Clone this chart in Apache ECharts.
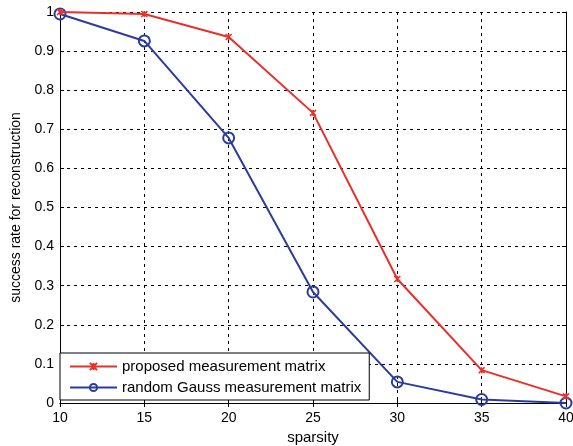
<!DOCTYPE html>
<html>
<head>
<meta charset="utf-8">
<script src="https://cdn.jsdelivr.net/npm/echarts@6/dist/echarts.min.js"></script>
<style>
html, body { margin: 0; padding: 0; background: #fff; }
#chart { width: 573px; height: 446px; }
</style>
</head>
<body>
<div id="chart"></div>
<script>
var sparsity = [10, 15, 20, 25, 30, 35, 40];
var proposed = [1.0, 0.995, 0.936, 0.742, 0.317, 0.084, 0.017];
var gauss = [0.995, 0.926, 0.678, 0.284, 0.054, 0.009, 0.0];
var names = ['proposed measurement matrix', 'random Gauss measurement matrix'];

function pairs(ys) {
    return sparsity.map(function(x, i) { return [x, ys[i]]; });
}

var font = 'Liberation Sans, Arial, sans-serif';
var axisCommon = {
    axisLine: { show: true, onZero: false, lineStyle: { color: '#000', width: 1 } },
    axisTick: { show: true, inside: true, length: 4, lineStyle: { color: '#000' } },
    axisLabel: { color: '#000', fontSize: 14, fontFamily: font },
    splitLine: { show: true, lineStyle: { color: '#000', type: [3, 4], width: 1 } }
};

var chart = echarts.init(document.getElementById('chart'));
chart.setOption({
    animation: false,
    backgroundColor: '#fff',
    grid: { left: 60, right: 7, top: 12, bottom: 43, containLabel: false, outerBoundsMode: 'none' },
    legend: {
        data: names,
        orient: 'vertical',
        left: 60,
        top: 353,
        itemWidth: 47,
        itemHeight: 9,
        itemGap: 6,
        padding: [6, 8, 5, 9],
        backgroundColor: '#fff',
        borderColor: '#000',
        borderWidth: 1,
        borderRadius: 0,
        textStyle: { color: '#000', fontSize: 15, fontFamily: font, padding: [0, 0, 0, 0] }
    },
    xAxis: [
        Object.assign({}, axisCommon, {
            type: 'value', min: 10, max: 40, interval: 5,
            name: 'sparsity', nameLocation: 'middle', nameGap: 25,
            nameTextStyle: { color: '#000', fontSize: 15, fontFamily: font },
            axisLabel: Object.assign({}, axisCommon.axisLabel, { margin: 8 })
        }),
        {
            type: 'value', min: 10, max: 40, interval: 5, position: 'top',
            axisLine: { show: true, lineStyle: { color: '#000' } },
            axisTick: { show: true, inside: true, length: 4, lineStyle: { color: '#000' } },
            axisLabel: { show: false }, splitLine: { show: false }
        }
    ],
    yAxis: [
        Object.assign({}, axisCommon, {
            type: 'value', min: 0, max: 1, interval: 0.1,
            name: 'success rate for reconstruction', nameLocation: 'middle', nameGap: 37,
            nameTextStyle: { color: '#000', fontSize: 14, fontFamily: font },
            axisLabel: Object.assign({}, axisCommon.axisLabel, { margin: 6 })
        }),
        {
            type: 'value', min: 0, max: 1, interval: 0.1, position: 'right',
            axisLine: { show: true, lineStyle: { color: '#000' } },
            axisTick: { show: true, inside: true, length: 4, lineStyle: { color: '#000' } },
            axisLabel: { show: false }, splitLine: { show: false }
        }
    ],
    series: [
        {
            name: names[0],
            type: 'line',
            data: pairs(proposed),
            color: '#e8302a',
            lineStyle: { width: 2, color: '#e8302a' },
            symbol: 'path://M0,0 L10,10 M10,0 L0,10 M5,0 L5,10',
            symbolSize: 6,
            itemStyle: { color: '#e8302a', borderColor: '#e8302a', borderWidth: 1.5 },
            z: 3
        },
        {
            name: names[1],
            type: 'line',
            data: pairs(gauss),
            color: '#2b3c9e',
            lineStyle: { width: 2, color: '#2b3c9e' },
            symbol: 'circle',
            symbolSize: 11,
            showAllSymbol: true,
            itemStyle: { color: 'rgba(255,255,255,0)', borderColor: '#2b3c9e', borderWidth: 2 },
            z: 2
        }
    ]
});
</script>
</body>
</html>
